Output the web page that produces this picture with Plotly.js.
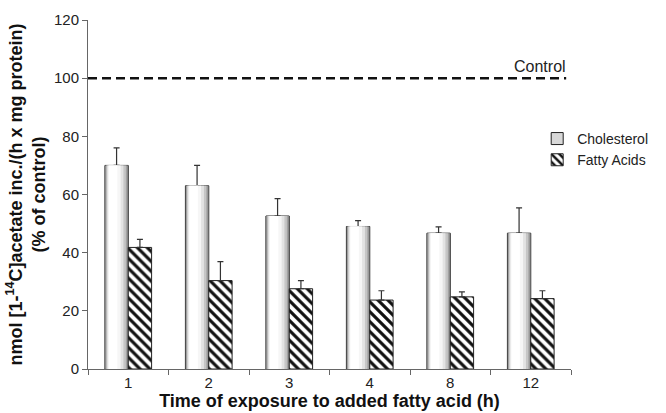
<!DOCTYPE html>
<html>
<head>
<meta charset="utf-8">
<script src="https://cdn.plot.ly/plotly-3.0.1.min.js"></script>
<style>html,body{margin:0;padding:0;background:#fff}#chart{width:666px;height:413px}</style>
</head>
<body>
<div id="chart"></div>
<script>
// ---- data ----
const categories = ['1', '2', '3', '4', '8', '12'];
const cholesterol = [70, 63, 52.6, 49, 46.7, 46.7];
const cholesterolErr = [6, 7, 6, 2, 2.2, 8.7];
const fattyAcids = [41.8, 30.4, 27.6, 23.7, 24.8, 24.2];
const fattyAcidsErr = [2.8, 6.5, 2.8, 3.2, 1.7, 2.7];
const controlLevel = 100;
const yTicks = [0, 20, 40, 60, 80, 100, 120];

const font = 'Liberation Sans, Arial, sans-serif';
const BW = 0.29;
const zeros = categories.map(() => 0);

// cylinder-like shading for cholesterol bars (layers, style only)
const shadeLayers = [
  {o0: -0.287, o1: -0.003, c: '#7e7e7e'},
  {o0: -0.280, o1: -0.012, c: '#a2a2a2'},
  {o0: -0.272, o1: -0.030, c: '#c6c6c6'},
  {o0: -0.262, o1: -0.060, c: '#e3e3e3'},
  {o0: -0.250, o1: -0.095, c: '#f6f6f6'},
  {o0: -0.240, o1: -0.135, c: '#ffffff'}
];

const traces = [];
traces.push({
  type: 'bar', name: 'Cholesterol', x: categories, y: cholesterol,
  width: BW, offset: -BW,
  marker: {color: '#d8d8d8', line: {color: '#222', width: 1}},
  error_y: {type: 'data', symmetric: false, array: cholesterolErr, arrayminus: zeros,
            color: '#333', thickness: 1.2, width: 3},
  showlegend: true, legendrank: 1
});
shadeLayers.forEach(l => traces.push({
  type: 'bar', x: categories, y: cholesterol,
  width: l.o1 - l.o0, offset: l.o0,
  marker: {color: l.c, line: {width: 0}},
  showlegend: false, hoverinfo: 'skip'
}));
traces.push({
  type: 'bar', name: 'Fatty Acids', x: categories, y: fattyAcids,
  width: BW, offset: 0,
  marker: {color: '#fff', line: {color: '#222', width: 1},
           pattern: {shape: '\\', fgcolor: '#111', bgcolor: '#fff', size: 7, solidity: 0.45}},
  error_y: {type: 'data', symmetric: false, array: fattyAcidsErr, arrayminus: zeros,
            color: '#333', thickness: 1.2, width: 3},
  showlegend: true, legendrank: 2
});

const layout = {
  width: 666, height: 413,
  margin: {l: 88, r: 95, t: 20, b: 44},
  paper_bgcolor: '#fff', plot_bgcolor: '#fff',
  barmode: 'overlay',
  font: {family: font, color: '#222', size: 15},
  showlegend: true,
  legend: {x: 0.93, y: 0.705, xanchor: 'left', yanchor: 'top',
           font: {family: font, size: 14, color: '#222'},
           bgcolor: 'rgba(0,0,0,0)', itemwidth: 30, tracegroupgap: 0},
  xaxis: {
    type: 'category', categoryarray: categories, range: [-0.5, categories.length - 0.5],
    showline: true, linecolor: '#666', linewidth: 1,
    ticks: 'outside', tickson: 'boundaries', ticklen: 5, tickcolor: '#666',
    tickfont: {family: font, size: 15, color: '#222'},
    showgrid: false, zeroline: false,
    title: {text: 'Time of exposure to added fatty acid (h)',
            font: {family: font, size: 18, color: '#111', weight: 'bold'}, standoff: 1}
  },
  yaxis: {
    range: [0, 120], tickvals: yTicks, automargin: true,
    showline: true, linecolor: '#666', linewidth: 1,
    ticks: 'outside', ticklen: 5, tickcolor: '#666',
    tickfont: {family: font, size: 15, color: '#222'},
    showgrid: false, zeroline: false,
    title: {text: '<b>nmol [1-<sup>14</sup>C]acetate inc./(h x mg protein)</b><br><b>(% of control)</b>',
            font: {family: font, size: 18, color: '#111'}, standoff: 3}
  },
  shapes: [{type: 'line', xref: 'paper', yref: 'y', x0: 0, x1: 0.99,
            y0: controlLevel, y1: controlLevel,
            line: {color: '#111', width: 2.5, dash: '9px,5px'}}],
  annotations: [{text: 'Control', xref: 'paper', yref: 'y', x: 0.935, y: controlLevel,
                 xanchor: 'center', yanchor: 'bottom', yshift: 1, showarrow: false,
                 font: {family: font, size: 16, color: '#222'}}]
};

Plotly.newPlot('chart', traces, layout, {staticPlot: true, displayModeBar: false});
</script>
</body>
</html>
